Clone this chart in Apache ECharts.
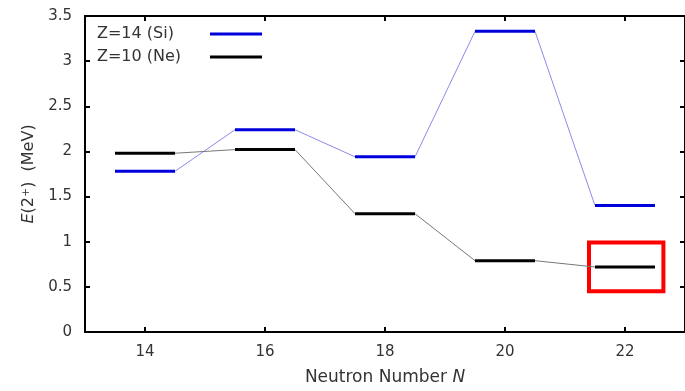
<!DOCTYPE html>
<html>
<head>
<meta charset="utf-8">
<script src="https://cdn.jsdelivr.net/npm/echarts@6/dist/echarts.min.js"></script>
<style>
html, body { margin: 0; padding: 0; background: #fff; }
#chart { width: 685px; height: 391px; }
</style>
</head>
<body>
<div id="chart"></div>
<script>
// E(2+) systematics
const neutronNumbers = [14, 16, 18, 20, 22];
const siEnergies = [1.78, 2.24, 1.94, 3.33, 1.40];
const neEnergies = [1.98, 2.02, 1.31, 0.79, 0.72];
const xTickValues = [14, 16, 18, 20, 22];
const seriesNames = ['Z=14 (Si)', 'Z=10 (Ne)'];

const textColor = '#333';
const font = 'DejaVu Sans';
const siColor = '#0000dd', siLink = '#8a8aec';
const neColor = '#000000', neLink = '#777777';

// both ends of every level, so the thin line joins end of one level to start of next
function levelEnds(values) {
    let pts = [];
    neutronNumbers.forEach(function (n, i) {
        pts.push([n - 0.5, values[i]]);
        pts.push([n + 0.5, values[i]]);
    });
    return pts;
}
function levelData(values) {
    return neutronNumbers.map(function (n, i) { return [n, values[i]]; });
}
function levelRenderer(color) {
    return function (params, api) {
        let n = api.value(0), e = api.value(1);
        let p1 = api.coord([n - 0.5, e]);
        let p2 = api.coord([n + 0.5, e]);
        return {
            type: 'line',
            shape: {x1: p1[0], y1: p1[1], x2: p2[0], y2: p2[1]},
            style: {stroke: color, lineWidth: 3}
        };
    };
}

const axisLine = {show: true, onZero: false, lineStyle: {color: '#000', width: 2}};
const tickStyle = {color: '#000', width: 2};

let chart = echarts.init(document.getElementById('chart'));
let option = {
    animation: false,
    color: [siColor, neColor],
    grid: {left: 85, top: 16, right: -4, bottom: 57},
    xAxis: [{
        type: 'value',
        position: 'bottom',
        min: 13,
        max: 23,
        name: 'Neutron Number {i|N}',
        nameLocation: 'middle',
        nameGap: 37,
        nameTextStyle: {
            color: textColor, fontSize: 17, fontFamily: font,
            rich: {i: {fontStyle: 'italic', fontSize: 17, fontFamily: font, color: textColor}}
        },
        axisLine: axisLine,
        axisTick: {show: true, inside: true, length: 5, customValues: xTickValues, lineStyle: tickStyle},
        axisLabel: {customValues: xTickValues, color: textColor, fontSize: 15, fontFamily: font, margin: 13},
        splitLine: {show: false}
    }, {
        type: 'value',
        position: 'top',
        min: 13,
        max: 23,
        axisLine: axisLine,
        axisTick: {show: true, inside: true, length: 5, customValues: xTickValues, lineStyle: tickStyle},
        axisLabel: {show: false},
        splitLine: {show: false}
    }],
    yAxis: [{
        type: 'value',
        position: 'left',
        min: 0,
        max: 3.5,
        interval: 0.5,
        name: '{i|E}(2{s|+})  (MeV)',
        nameLocation: 'middle',
        nameRotate: 90,
        nameGap: 48,
        nameTextStyle: {
            color: textColor, fontSize: 16, fontFamily: font,
            rich: {
                i: {fontStyle: 'italic', fontSize: 16, fontFamily: font, color: textColor},
                s: {fontSize: 11, fontFamily: font, color: textColor, verticalAlign: 'top'}
            }
        },
        axisLine: axisLine,
        axisTick: {show: true, inside: true, length: 5, lineStyle: tickStyle},
        axisLabel: {color: textColor, fontSize: 15, fontFamily: font, margin: 13},
        splitLine: {show: false}
    }, {
        type: 'value',
        position: 'right',
        min: 0,
        max: 3.5,
        interval: 0.5,
        axisLine: axisLine,
        axisTick: {show: true, inside: true, length: 5, lineStyle: tickStyle},
        axisLabel: {show: false},
        splitLine: {show: false}
    }],
    legend: {
        data: seriesNames,
        orient: 'vertical',
        left: 97,
        top: 26,
        padding: 0,
        align: 'right',
        icon: 'rect',
        itemWidth: 52,
        itemHeight: 3,
        itemGap: 7,
        selectedMode: false,
        formatter: function (name) { return '{t|' + name + '}'; },
        textStyle: {
            color: textColor,
            fontSize: 16,
            fontFamily: font,
            rich: {t: {width: 108, align: 'left', fontSize: 16, lineHeight: 18, fontFamily: font, color: textColor}}
        }
    },
    series: [{
        name: 'Si link',
        type: 'line',
        data: levelEnds(siEnergies),
        symbol: 'none',
        lineStyle: {color: siLink, width: 1},
        z: 2
    }, {
        name: 'Ne link',
        type: 'line',
        data: levelEnds(neEnergies),
        symbol: 'none',
        lineStyle: {color: neLink, width: 1},
        z: 2,
        markArea: {
            silent: true,
            label: {show: false},
            itemStyle: {color: 'rgba(0,0,0,0)', borderColor: '#ff0000', borderWidth: 4, opacity: 1},
            data: [[{coord: [21.4, 0.99]}, {coord: [22.64, 0.45]}]]
        }
    }, {
        name: seriesNames[0],
        type: 'custom',
        data: levelData(siEnergies),
        itemStyle: {color: siColor},
        renderItem: levelRenderer(siColor),
        z: 3
    }, {
        name: seriesNames[1],
        type: 'custom',
        data: levelData(neEnergies),
        itemStyle: {color: neColor},
        renderItem: levelRenderer(neColor),
        z: 3
    }]
};
chart.setOption(option);
</script>
</body>
</html>
